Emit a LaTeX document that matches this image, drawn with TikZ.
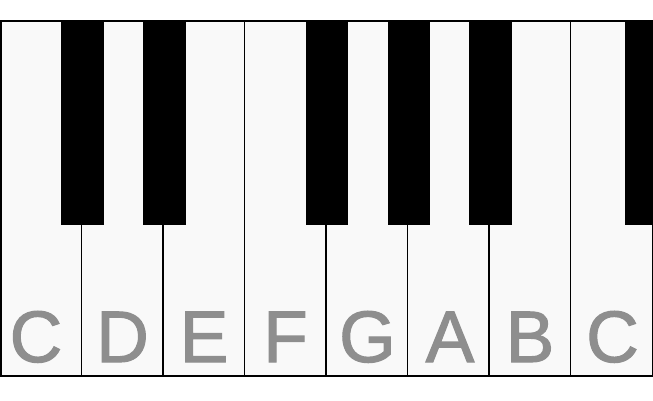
\documentclass[tikz,border=0pt]{standalone}
\usepackage{fontspec}
\setmainfont{Liberation Sans}
\newfontfamily\notefont[FakeBold=1.5]{Liberation Sans}
\definecolor{keywhite}{HTML}{F9F9F9}
\definecolor{notegray}{HTML}{8E8E8E}
\begin{document}
\begin{tikzpicture}[x=1pt, y=-1pt,
  whitekey/.style={draw, line width=1.5pt, fill=keywhite},
  blackkey/.style={fill=black},
  notename/.style={text=notegray, inner sep=0pt, anchor=base, font=\notefont\fontsize{73}{73}\selectfont}]
\useasboundingbox (0,0) rectangle (653,400);
\draw[whitekey] (0.75,21) rectangle (81.5,376);
\draw[whitekey] (81.5,21) rectangle (163,376);
\draw[whitekey] (163,21) rectangle (244.5,376);
\draw[whitekey] (244.5,21) rectangle (326,376);
\draw[whitekey] (326,21) rectangle (407.5,376);
\draw[whitekey] (407.5,21) rectangle (489,376);
\draw[whitekey] (489,21) rectangle (570.5,376);
\draw[whitekey] (570.5,21) rectangle (652.25,376);
\fill[blackkey] (61,20.25) rectangle (104,225);
\fill[blackkey] (143,20.25) rectangle (186,225);
\fill[blackkey] (306,20.25) rectangle (348,225);
\fill[blackkey] (388,20.25) rectangle (430,225);
\fill[blackkey] (469,20.25) rectangle (512,225);
\fill[blackkey] (625,20.25) rectangle (653,225);
\node[notename] (c1) at (36,362) {C};
\node[notename] (d) at (122.5,362) {D};
\node[notename] (e) at (204,362) {E};
\node[notename] (f) at (285.5,362) {F};
\node[notename] (g) at (367.5,362) {G};
\node[notename] (a) at (450,362) {A};
\node[notename] (b) at (530,362) {B};
\node[notename] (c2) at (612.5,362) {C};
\end{tikzpicture}
\end{document}
